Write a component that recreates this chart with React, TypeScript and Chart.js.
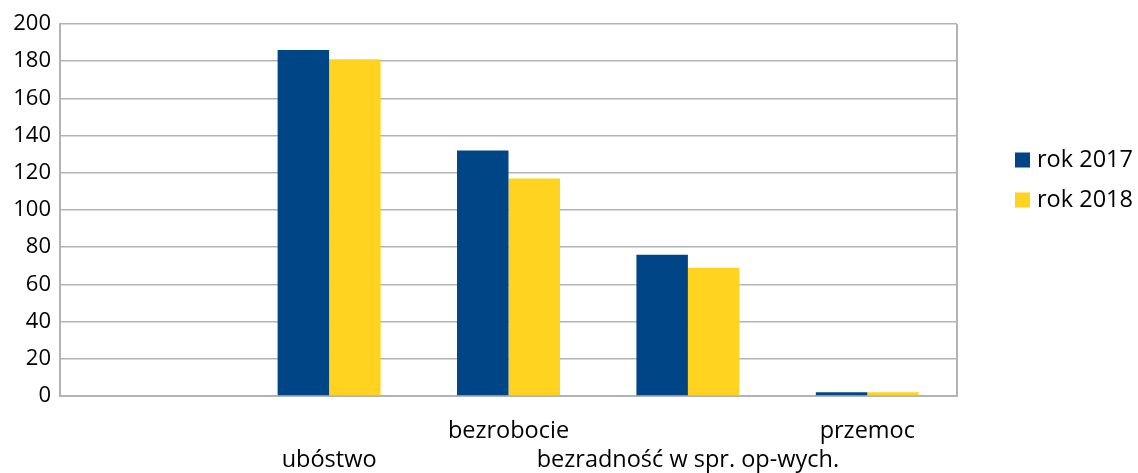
import React, { useEffect, useRef } from "react";
import { Chart, registerables } from "chart.js";

Chart.register(...registerables);

const categories = ["", "ubóstwo", "bezrobocie", "bezradność w spr. op-wych.", "przemoc"];
const seriesLabels = ["rok 2017", "rok 2018"];
const values2017 = [0, 186, 132, 76, 2];
const values2018 = [0, 181, 117, 69, 2];
const colors = ["#004586", "#ffd320"];

const FONT = "'Open Sans', Lato, sans-serif";
const LABEL_SIZE = 23.5;
const TICK_SIZE = 22;

const legendPlugin = {
  id: "customLegend",
  afterDraw(chart: any) {
    const ctx = chart.ctx;
    ctx.save();
    ctx.font = `${LABEL_SIZE}px ${FONT}`;
    ctx.textBaseline = "middle";
    ctx.textAlign = "left";
    chart.data.datasets.forEach((ds: any, i: number) => {
      const cy = 160 + i * 40;
      ctx.fillStyle = ds.backgroundColor;
      ctx.fillRect(1015, cy - 7.5, 15, 15);
      ctx.fillStyle = "#000";
      ctx.fillText(ds.label, 1037, cy);
    });
    ctx.restore();
  },
};

const borderPlugin = {
  id: "plotBorder",
  afterDatasetsDraw(chart: any) {
    const { ctx, chartArea } = chart;
    ctx.save();
    ctx.strokeStyle = "#b3b3b3";
    ctx.lineWidth = 2;
    ctx.beginPath();
    ctx.moveTo(chartArea.right, chartArea.top);
    ctx.lineTo(chartArea.right, chartArea.bottom);
    ctx.stroke();
    ctx.restore();
  },
};

export default function App() {
  const ref = useRef<HTMLCanvasElement>(null);
  useEffect(() => {
    document.body.style.margin = "0";
    const chart = new Chart(ref.current!, {
      type: "bar",
      data: {
        labels: categories,
        datasets: [
          { label: seriesLabels[0], data: values2017, backgroundColor: colors[0], borderWidth: 0 },
          { label: seriesLabels[1], data: values2018, backgroundColor: colors[1], borderWidth: 0 },
        ],
      },
      options: {
        responsive: false,
        animation: false,
        layout: { padding: { top: 24, right: 181, left: 0, bottom: 0 } },
        plugins: { legend: { display: false }, tooltip: { enabled: false } },
        datasets: { bar: { categoryPercentage: 0.574, barPercentage: 1 } },
        scales: {
          x: {
            grid: { display: false, drawTicks: false },
            border: { color: "#b3b3b3", width: 2 },
            ticks: {
              autoSkip: false,
              maxRotation: 0,
              minRotation: 0,
              padding: 21,
              color: "#000",
              font: { family: FONT, size: LABEL_SIZE, lineHeight: 1.24 },
              callback: (_v: any, i: number) => (i % 2 === 1 ? ["", categories[i]] : categories[i]),
            },
            afterFit: (s: any) => {
              s.height = 77;
            },
          },
          y: {
            min: 0,
            max: 200,
            grid: { color: "#b3b3b3", lineWidth: 1.5, drawTicks: false },
            border: { color: "#b3b3b3", width: 2 },
            ticks: {
              stepSize: 20,
              padding: 9,
              color: "#000",
              font: { family: FONT, size: TICK_SIZE },
            },
            afterFit: (s: any) => {
              s.width = 60;
            },
          },
        },
      },
      plugins: [legendPlugin, borderPlugin],
    });
    return () => chart.destroy();
  }, []);
  return (
    <div style={{ position: "absolute", left: 0, top: 0, width: 1138, height: 473, background: "#fff" }}>
      <canvas ref={ref} width={1138} height={473} />
    </div>
  );
}
